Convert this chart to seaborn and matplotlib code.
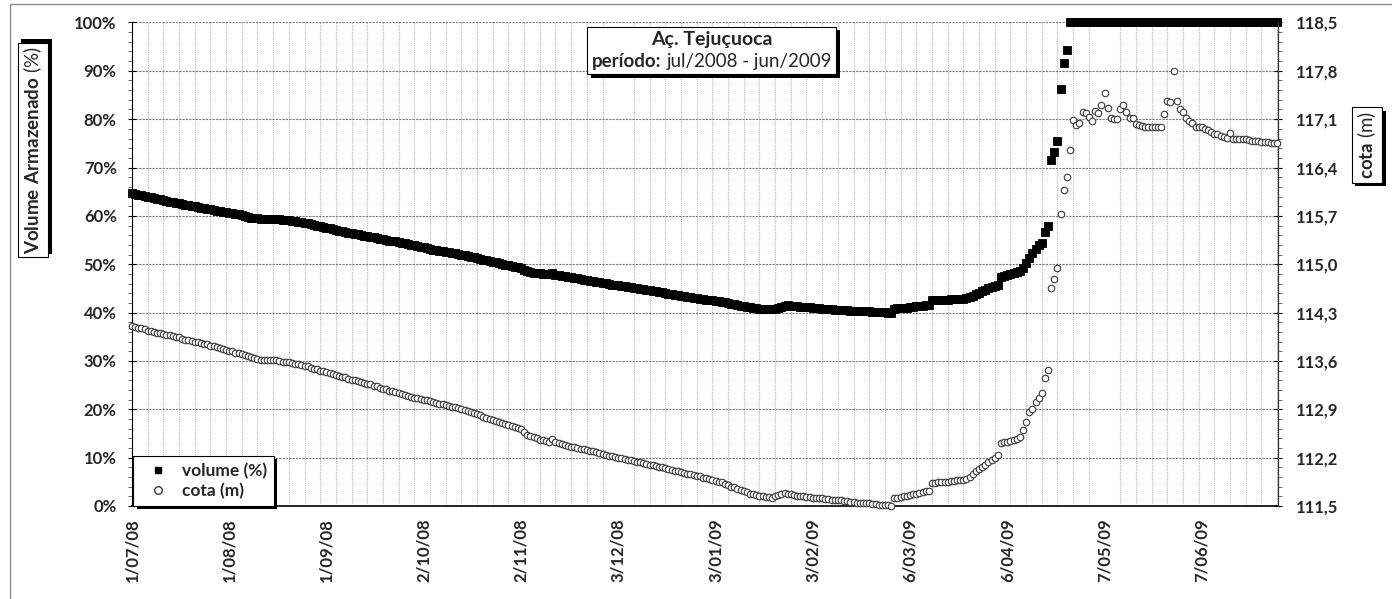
import numpy as np
import pandas as pd
import matplotlib
matplotlib.use('Agg')
import matplotlib.pyplot as plt
import matplotlib.patheffects as pe
from matplotlib.lines import Line2D
from matplotlib.offsetbox import TextArea, VPacker, HPacker, AnchoredOffsetbox
from matplotlib.ticker import FixedLocator, MultipleLocator
import seaborn as sns

# dados diarios: 1/07/2008 a 1/07/2009
start_date = '2008-07-01'

volume_pct = [
    64.7, 64.6, 64.4, 64.3, 64.1, 64.0, 63.8, 63.7, 63.5, 63.4,
    63.2, 63.1, 62.9, 62.8, 62.7, 62.6, 62.4, 62.3, 62.2, 62.1,
    62.0, 61.9, 61.7, 61.6, 61.5, 61.4, 61.2, 61.1, 61.0, 60.8,
    60.7, 60.6, 60.5, 60.4, 60.3, 60.1, 60.0, 59.8, 59.6, 59.5,
    59.5, 59.4, 59.4, 59.4, 59.3, 59.3, 59.3, 59.3, 59.2, 59.2,
    59.1, 59.0, 58.9, 58.8, 58.7, 58.6, 58.5, 58.3, 58.2, 58.0,
    57.9, 57.7, 57.5, 57.4, 57.2, 57.1, 56.9, 56.8, 56.6, 56.5,
    56.4, 56.3, 56.2, 56.1, 55.9, 55.8, 55.7, 55.6, 55.4, 55.3,
    55.2, 55.1, 54.9, 54.8, 54.7, 54.5, 54.4, 54.3, 54.1, 54.0,
    53.9, 53.7, 53.6, 53.5, 53.3, 53.2, 53.0, 52.9, 52.8, 52.7,
    52.6, 52.5, 52.4, 52.3, 52.2, 52.0, 51.9, 51.7, 51.5, 51.4,
    51.2, 51.1, 50.9, 50.8, 50.6, 50.5, 50.4, 50.2, 50.1, 49.9,
    49.8, 49.7, 49.5, 49.4, 49.2, 48.8, 48.5, 48.3, 48.2, 48.2,
    48.1, 48.0, 48.0, 47.9, 48.1, 47.8, 47.7, 47.6, 47.5, 47.4,
    47.3, 47.2, 47.1, 46.9, 46.8, 46.7, 46.6, 46.5, 46.4, 46.3,
    46.2, 46.1, 45.9, 45.8, 45.7, 45.6, 45.5, 45.4, 45.3, 45.2,
    45.1, 45.0, 44.9, 44.8, 44.7, 44.6, 44.5, 44.4, 44.3, 44.2,
    44.1, 43.9, 43.8, 43.7, 43.6, 43.5, 43.4, 43.3, 43.2, 43.1,
    43.0, 42.9, 42.8, 42.7, 42.6, 42.5, 42.4, 42.3, 42.2, 42.1,
    42.0, 41.8, 41.7, 41.5, 41.4, 41.3, 41.2, 41.1, 41.0, 40.9,
    40.8, 40.8, 40.7, 40.7, 40.7, 40.8, 41.0, 41.2, 41.4, 41.5,
    41.4, 41.3, 41.3, 41.2, 41.2, 41.1, 41.1, 41.0, 40.9, 40.9,
    40.8, 40.8, 40.7, 40.7, 40.6, 40.6, 40.5, 40.5, 40.5, 40.4,
    40.4, 40.4, 40.3, 40.3, 40.3, 40.3, 40.2, 40.2, 40.2, 40.1,
    40.1, 40.0, 40.0, 40.8, 40.9, 40.9, 41.0, 41.0, 41.1, 41.2,
    41.3, 41.3, 41.4, 41.5, 41.6, 42.6, 42.6, 42.6, 42.7, 42.7,
    42.7, 42.8, 42.8, 42.8, 42.9, 42.9, 43.0, 43.2, 43.5, 43.8,
    44.1, 44.4, 44.6, 45.0, 45.3, 45.5, 45.8, 47.4, 47.6, 47.8,
    47.9, 48.1, 48.3, 48.6, 49.3, 50.2, 51.3, 52.3, 53.1, 53.9,
    54.4, 56.7, 57.9, 71.6, 73.2, 75.4, 86.3, 91.6, 94.4,
    100, 100, 100, 100, 100, 100, 100, 100, 100, 100,
    100, 100, 100, 100, 100, 100, 100, 100, 100, 100,
    100, 100, 100, 100, 100, 100, 100, 100, 100, 100,
    100, 100, 100, 100, 100, 100, 100, 100, 100, 100,
    100, 100, 100, 100, 100, 100, 100, 100, 100, 100,
    100, 100, 100, 100, 100, 100, 100, 100, 100, 100,
    100, 100, 100, 100, 100, 100, 100,
]

cota_m = [
    114.10, 114.09, 114.08, 114.07, 114.06, 114.04, 114.03, 114.02, 114.01, 114.00,
    113.99, 113.98, 113.97, 113.96, 113.95, 113.94, 113.92, 113.91, 113.90, 113.89,
    113.88, 113.87, 113.86, 113.85, 113.84, 113.82, 113.81, 113.80, 113.78, 113.77,
    113.76, 113.75, 113.74, 113.72, 113.71, 113.70, 113.69, 113.67, 113.66, 113.64,
    113.63, 113.62, 113.62, 113.61, 113.61, 113.61, 113.61, 113.60, 113.59, 113.58,
    113.58, 113.57, 113.56, 113.55, 113.54, 113.53, 113.52, 113.50, 113.49, 113.48,
    113.46, 113.45, 113.44, 113.42, 113.41, 113.40, 113.38, 113.37, 113.36, 113.34,
    113.33, 113.32, 113.31, 113.30, 113.28, 113.27, 113.26, 113.24, 113.23, 113.21,
    113.20, 113.19, 113.17, 113.16, 113.15, 113.13, 113.12, 113.11, 113.09, 113.08,
    113.07, 113.06, 113.05, 113.04, 113.03, 113.02, 113.01, 112.99, 112.98, 112.97,
    112.96, 112.95, 112.94, 112.93, 112.92, 112.90, 112.89, 112.87, 112.86, 112.84,
    112.83, 112.81, 112.79, 112.78, 112.76, 112.75, 112.73, 112.72, 112.70, 112.69,
    112.67, 112.66, 112.64, 112.63, 112.61, 112.57, 112.53, 112.51, 112.50, 112.48,
    112.46, 112.45, 112.44, 112.43, 112.47, 112.42, 112.41, 112.40, 112.38, 112.37,
    112.36, 112.35, 112.34, 112.33, 112.32, 112.31, 112.30, 112.29, 112.28, 112.26,
    112.25, 112.24, 112.23, 112.22, 112.21, 112.20, 112.19, 112.18, 112.17, 112.16,
    112.15, 112.14, 112.13, 112.12, 112.11, 112.10, 112.09, 112.08, 112.07, 112.06,
    112.05, 112.04, 112.02, 112.01, 112.00, 111.99, 111.98, 111.97, 111.96, 111.95,
    111.94, 111.93, 111.91, 111.90, 111.89, 111.88, 111.86, 111.85, 111.84, 111.82,
    111.80, 111.78, 111.77, 111.75, 111.73, 111.71, 111.70, 111.68, 111.67, 111.66,
    111.65, 111.64, 111.63, 111.63, 111.62, 111.64, 111.66, 111.68, 111.69, 111.68,
    111.67, 111.66, 111.65, 111.65, 111.64, 111.63, 111.63, 111.62, 111.62, 111.61,
    111.61, 111.60, 111.60, 111.59, 111.59, 111.58, 111.58, 111.57, 111.57, 111.56,
    111.56, 111.55, 111.55, 111.55, 111.54, 111.54, 111.53, 111.53, 111.52, 111.52,
    111.51, 111.51, 111.50, 111.61, 111.62, 111.63, 111.64, 111.65, 111.66, 111.67,
    111.68, 111.69, 111.70, 111.71, 111.72, 111.83, 111.83, 111.84, 111.84, 111.85,
    111.85, 111.86, 111.86, 111.87, 111.87, 111.88, 111.89, 111.92, 111.96, 112.00,
    112.04, 112.07, 112.10, 112.14, 112.17, 112.20, 112.24, 112.41, 112.42, 112.43,
    112.44, 112.45, 112.47, 112.50, 112.60, 112.72, 112.86, 112.91, 113.01, 113.06,
    113.13, 113.35, 113.47, 114.65, 114.78, 114.95, 115.72, 116.08, 116.26, 116.65,
    117.09, 117.02, 117.04, 117.21, 117.19, 117.13, 117.07, 117.22, 117.19, 117.31,
    117.48, 117.26, 117.12, 117.10, 117.10, 117.24, 117.30, 117.20, 117.12, 117.12,
    117.03, 117.01, 117.00, 116.99, 116.99, 116.99, 116.99, 116.99, 116.99, 117.17,
    117.36, 117.35, 117.80, 117.36, 117.25, 117.21, 117.12, 117.07, 117.04, 116.98,
    116.98, 116.98, 116.96, 116.94, 116.91, 116.89, 116.88, 116.86, 116.84, 116.83,
    116.90, 116.82, 116.82, 116.82, 116.81, 116.81, 116.80, 116.79, 116.79, 116.78,
    116.77, 116.77, 116.77, 116.76, 116.76, 116.75,
]

tick_dates = ['2008-07-01', '2008-08-01', '2008-09-01', '2008-10-02', '2008-11-02', '2008-12-03',
              '2009-01-03', '2009-02-03', '2009-03-06', '2009-04-06', '2009-05-07', '2009-06-07']
tick_labels = ['1/07/08', '1/08/08', '1/09/08', '2/10/08', '2/11/08', '3/12/08',
               '3/01/09', '3/02/09', '6/03/09', '6/04/09', '7/05/09', '7/06/09']
vol_ticks = [0, 10, 20, 30, 40, 50, 60, 70, 80, 90, 100]
vol_labels = ['0%', '10%', '20%', '30%', '40%', '50%', '60%', '70%', '80%', '90%', '100%']
cota_ticks = [111.5, 112.2, 112.9, 113.6, 114.3, 115.0, 115.7, 116.4, 117.1, 117.8, 118.5]
cota_labels = ['111,5', '112,2', '112,9', '113,6', '114,3', '115,0', '115,7', '116,4', '117,1', '117,8', '118,5']

dates = pd.date_range(start_date, periods=len(cota_m), freq='D')
df = pd.DataFrame({'data': dates, 'volume': volume_pct, 'cota': cota_m})

sns.set_style('white')
plt.rcParams['font.family'] = ['Lato', 'DejaVu Sans']
plt.rcParams['mathtext.fontset'] = 'custom'
plt.rcParams['mathtext.rm'] = 'Lato'
plt.rcParams['mathtext.bf'] = 'Lato:bold'

fig = plt.figure(figsize=(13.92, 5.99), dpi=100)
ax = fig.add_axes([0.0948, 0.1553, 0.8233, 0.8072])
ax2 = ax.twinx()

sns.scatterplot(data=df, x='data', y='volume', ax=ax, marker='s', color='black',
                edgecolor='black', s=30, linewidth=0.6, clip_on=False, zorder=3, legend=False)
sns.scatterplot(data=df, x='data', y='cota', ax=ax2, marker='o', color='white',
                edgecolor='#3a3a3a', s=22, linewidth=0.8, clip_on=False, zorder=3, legend=False)

x0 = pd.Timestamp('2008-07-01')
ax.set_xlim(x0, pd.Timestamp('2009-07-01 07:00'))
ax.set_ylim(0, 100)
ax2.set_ylim(111.5, 118.5)

# eixo x
ax.set_xticks(pd.to_datetime(tick_dates))
ax.set_xticklabels(tick_labels, rotation=90, fontweight='bold', fontsize=12)
ax.xaxis.set_minor_locator(FixedLocator(matplotlib.dates.date2num(pd.date_range(x0, periods=74, freq='5D'))))
ax.tick_params(axis='x', which='major', length=0, pad=9)
ax.tick_params(axis='x', which='minor', length=4, width=0.8, color='#909090', direction='out')

# eixo volume
ax.set_yticks(vol_ticks)
ax.set_yticklabels(vol_labels, fontweight='bold', fontsize=12)
ax.yaxis.set_minor_locator(MultipleLocator(2))
ax.tick_params(axis='y', which='major', length=6, width=0.8, direction='inout', pad=8, color='black')
ax.tick_params(axis='y', which='minor', length=3, width=0.6, direction='out', color='#555555')

# eixo cota
ax2.set_yticks(cota_ticks)
ax2.set_yticklabels(cota_labels, fontweight='bold', fontsize=12)
ax2.yaxis.set_minor_locator(FixedLocator(np.arange(111.5, 118.51, 0.14)))
ax2.tick_params(axis='y', which='major', length=6, width=0.8, direction='inout', pad=10, color='black')
ax2.tick_params(axis='y', which='minor', length=3, width=0.6, direction='out', color='#555555')
ax.set_xlabel('')
ax.set_ylabel('')
ax2.set_ylabel('')

# grades
ax.grid(axis='y', which='major', color='#7a7a7a', linestyle=(0, (2, 1)), linewidth=0.8)
ax.grid(axis='x', which='minor', color='#b4b4b4', linestyle=(0, (1, 1)), linewidth=0.8)
ax.grid(axis='x', which='major', visible=False)
ax2.grid(False)
ax.set_axisbelow(True)

for a in (ax, ax2):
    a.spines['top'].set_visible(False)
ax.spines['left'].set_color('black')
ax.spines['bottom'].set_color('black')
ax.spines['bottom'].set_linewidth(1.2)
ax2.spines['right'].set_color('#333333')
ax2.spines['left'].set_visible(False)
ax2.spines['bottom'].set_visible(False)

shadow_dn = [pe.SimplePatchShadow(offset=(2.5, -2.5), shadow_rgbFace='black', alpha=1), pe.Normal()]
shadow_up = [pe.SimplePatchShadow(offset=(2.5, 2.5), shadow_rgbFace='black', alpha=1), pe.Normal()]

# legenda
handles = [Line2D([], [], marker='s', color='black', linestyle='', markersize=5),
           Line2D([], [], marker='o', markerfacecolor='white', markeredgecolor='#3a3a3a',
                  linestyle='', markersize=5.5)]
leg = ax2.legend(handles, ['volume (%)', 'cota (m)'], loc='lower left', bbox_to_anchor=(0.001, 0.0),
                 borderaxespad=0, fancybox=False, framealpha=1, edgecolor='black',
                 prop={'weight': 'bold', 'size': 12.5}, handlelength=2.1, handletextpad=0.3,
                 labelspacing=0.2, borderpad=0.4)
leg.get_frame().set_linewidth(0.8)
leg.get_frame().set_path_effects(shadow_dn)

# titulo
linha1 = TextArea('Aç. Tejuçuoca', textprops=dict(fontweight='bold', fontsize=14))
linha2 = HPacker(children=[TextArea('período:', textprops=dict(fontweight='bold', fontsize=13.5)),
                           TextArea('jul/2008 - jun/2009', textprops=dict(fontsize=13.5))],
                 align='baseline', pad=0, sep=4)
caixa = VPacker(children=[linha1, linha2], align='center', pad=0, sep=4)
titulo = AnchoredOffsetbox(loc='center', child=caixa, pad=0.3, borderpad=0, frameon=True,
                           bbox_to_anchor=(0.506, 0.942), bbox_transform=ax.transAxes)
titulo.patch.set_edgecolor('black')
titulo.patch.set_linewidth(0.8)
titulo.patch.set_path_effects(shadow_dn)
ax2.add_artist(titulo)

# rotulos dos eixos
t1 = fig.text(33 / 1392, 1 - 150 / 599, r'$\mathbf{Volume\ Armazenado}$ (%)', rotation=90,
              ha='center', va='center', fontsize=13.5,
              bbox=dict(boxstyle='square,pad=0.2', fc='white', ec='black', lw=0.8))
t1.get_bbox_patch().set_path_effects(shadow_up)
t2 = fig.text(1367 / 1392, 1 - 145 / 599, r'$\mathbf{cota}$ (m)', rotation=90,
              ha='center', va='center', fontsize=13.5,
              bbox=dict(boxstyle='square,pad=0.2', fc='white', ec='black', lw=0.8))
t2.get_bbox_patch().set_path_effects(shadow_dn)

# moldura externa
fig.add_artist(Line2D([10 / 1392, 10 / 1392], [0, 1 - 4 / 599], transform=fig.transFigure,
                      color='#8c8c8c', linewidth=1))
fig.add_artist(Line2D([10 / 1392, 1], [1 - 4 / 599, 1 - 4 / 599], transform=fig.transFigure,
                      color='#8c8c8c', linewidth=1))

fig.savefig('out.png', dpi=100)
